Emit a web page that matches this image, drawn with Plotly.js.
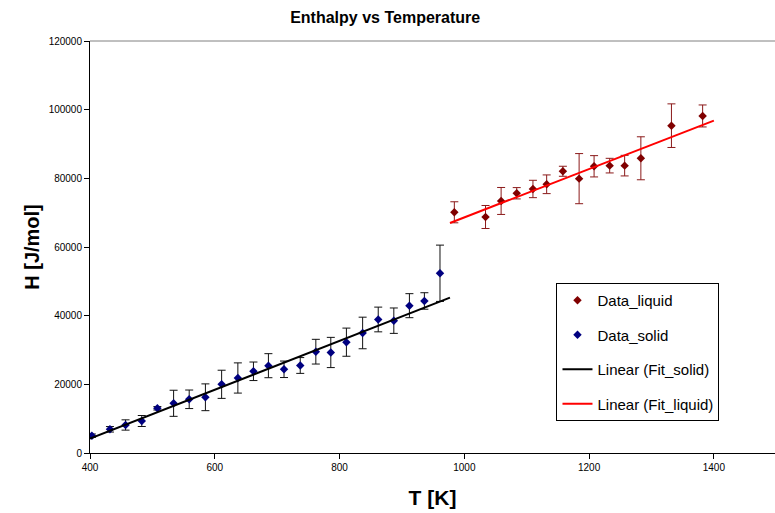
<!DOCTYPE html>
<html>
<head>
<meta charset="utf-8">
<script src="https://cdn.plot.ly/plotly-3.0.1.min.js"></script>
<style>html,body{margin:0;padding:0;background:#fff;}#chart{width:775px;height:513px;}</style>
</head>
<body>
<div id="chart"></div>
<script>
// Solid phase data
const solidT = [403, 432, 457, 483, 508, 534, 559, 585, 611, 637, 662, 686, 711, 737, 762, 786, 811, 837, 862, 887, 912, 936, 961];
const solidH = [5040, 6900, 8160, 9320, 13020, 14480, 15640, 16230, 20010, 21850, 23800, 25430, 24380, 25490, 29510, 29280, 32280, 34960, 38890, 38540, 42910, 44280, 52350];
const solidErr = [500, 800, 1500, 1600, 500, 3800, 2700, 3900, 4100, 4400, 2700, 3500, 2400, 2300, 3600, 4400, 4100, 4600, 3600, 3700, 3500, 2400, 8200];

// Liquid phase data
const liquidT = [984, 1034, 1059, 1084, 1110, 1132, 1158, 1184, 1208, 1233, 1257, 1283, 1332, 1382];
const liquidH = [70110, 68740, 73410, 75650, 76900, 78270, 82060, 79910, 83510, 83700, 83700, 85840, 95340, 98170];
const liquidErr = [3060, 3350, 3930, 1650, 2530, 2720, 1460, 7300, 3100, 2130, 3000, 6260, 6350, 3200];

// Linear trendlines (end points)
const fitSolidT = [400, 977];
const fitSolidH = [4170, 45240];
const fitLiquidT = [977, 1400];
const fitLiquidH = [67000, 96800];

const xTicks = [400, 600, 800, 1000, 1200, 1400];
const yTicks = [0, 20000, 40000, 60000, 80000, 100000, 120000];

const FONT = 'Arial, "Liberation Sans", sans-serif';

const traces = [
  {
    x: liquidT, y: liquidH, name: 'Data_liquid', type: 'scatter', mode: 'markers',
    marker: {symbol: 'diamond', size: 6.5, color: '#800000'},
    error_y: {type: 'data', array: liquidErr, visible: true, color: '#8b1a1a', thickness: 1, width: 4},
    legendgroup: 'a'
  },
  {
    x: solidT, y: solidH, name: 'Data_solid', type: 'scatter', mode: 'markers',
    marker: {symbol: 'diamond', size: 6.5, color: '#000080'},
    error_y: {type: 'data', array: solidErr, visible: true, color: '#111111', thickness: 1, width: 4},
    legendgroup: 'b'
  },
  {
    x: fitSolidT, y: fitSolidH, name: 'Linear (Fit_solid)', type: 'scatter', mode: 'lines',
    line: {color: '#000000', width: 2},
    legendgroup: 'c'
  },
  {
    x: fitLiquidT, y: fitLiquidH, name: 'Linear (Fit_liquid)', type: 'scatter', mode: 'lines',
    line: {color: '#ff0000', width: 2},
    legendgroup: 'd'
  }
];

const layout = {
  width: 775, height: 513,
  margin: {l: 90, r: 0, t: 41, b: 60},
  paper_bgcolor: '#ffffff', plot_bgcolor: '#ffffff',
  font: {family: FONT, color: '#000000'},
  title: {
    text: 'Enthalpy vs Temperature',
    font: {family: FONT, size: 16, weight: 'bold', color: '#000000'},
    xref: 'container', x: 0.497, xanchor: 'center',
    yref: 'container', y: 0.966, yanchor: 'middle'
  },
  xaxis: {
    range: [400, 1498],
    tickvals: xTicks, ticktext: xTicks.map(String),
    showline: true, linecolor: '#000000', linewidth: 1,
    ticks: 'outside', ticklen: 5, tickcolor: '#000000', tickwidth: 1,
    showgrid: false, zeroline: false,
    tickfont: {family: FONT, size: 10, color: '#000000'},
    title: {text: 'T [K]', font: {family: FONT, size: 21, weight: 'bold', color: '#000000'}, standoff: 18}
  },
  yaxis: {
    range: [0, 120000],
    tickvals: yTicks, ticktext: yTicks.map(String),
    showline: true, linecolor: '#000000', linewidth: 1,
    ticks: 'outside', ticklen: 5, tickcolor: '#000000', tickwidth: 1,
    showgrid: false, zeroline: false,
    tickfont: {family: FONT, size: 10, color: '#000000'},
    title: {text: 'H [J/mol]', font: {family: FONT, size: 20, weight: 'bold', color: '#000000'}, standoff: 3}
  },
  shapes: [
    {type: 'line', xref: 'paper', yref: 'paper', x0: 0, x1: 1, y0: 1, y1: 1, line: {color: '#808080', width: 1}}
  ],
  showlegend: true,
  legend: {
    x: 0.681, xanchor: 'left', y: 0.4126, yanchor: 'top',
    bordercolor: '#000000', borderwidth: 1, bgcolor: '#ffffff',
    font: {family: FONT, size: 15, color: '#000000'},
    traceorder: 'grouped', tracegroupgap: 12
  }
};

Plotly.newPlot('chart', traces, layout, {displayModeBar: false, staticPlot: true});
</script>
</body>
</html>
